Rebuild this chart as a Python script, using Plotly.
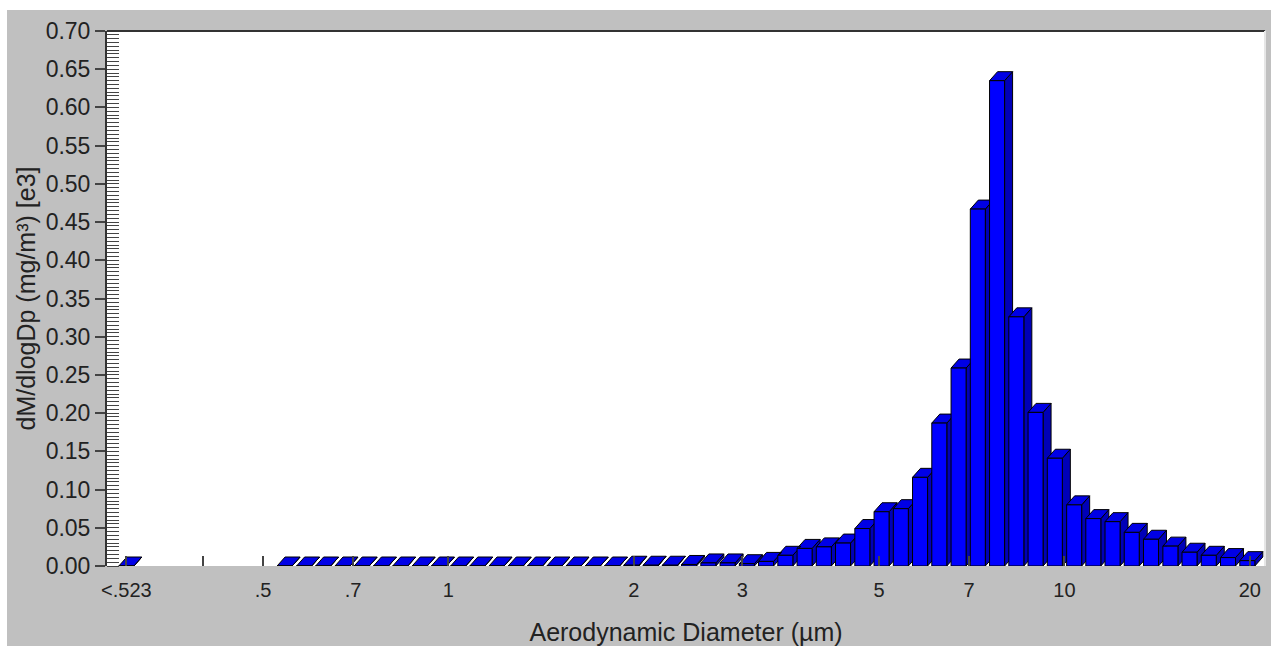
import math
import plotly.graph_objects as go

# ---------------- data ----------------
# APS channel midpoints (aerodynamic diameter, µm)
diameters = [0.542, 0.583, 0.626, 0.673, 0.723, 0.777, 0.835, 0.898, 0.965, 1.037,
             1.114, 1.197, 1.286, 1.382, 1.486, 1.596, 1.715, 1.843, 1.981, 2.129,
             2.288, 2.458, 2.642, 2.839, 3.051, 3.278, 3.523, 3.786, 4.068, 4.371,
             4.698, 5.048, 5.425, 5.829, 6.264, 6.732, 7.234, 7.774, 8.354, 8.977,
             9.647, 10.37, 11.14, 11.97, 12.86, 13.82, 14.86, 15.96, 17.15, 18.43,
             19.81]
# dM/dlogDp (mg/m³) [e3]
values = [0.0, 0.0, 0.0, 0.0, 0.0, 0.0, 0.0, 0.0, 0.0, 0.0,
          0.0, 0.0, 0.0, 0.0, 0.0, 0.0, 0.0, 0.0, 0.001, 0.001,
          0.001, 0.002, 0.004, 0.004, 0.003, 0.006, 0.014, 0.023, 0.025, 0.030,
          0.049, 0.071, 0.075, 0.116, 0.187, 0.259, 0.467, 0.635, 0.326, 0.201,
          0.141, 0.080, 0.062, 0.058, 0.044, 0.035, 0.026, 0.018, 0.014, 0.011,
          0.007]
under_label = "<.523"
under_value = 0.0

tick_diams = [0.4, 0.5, 0.7, 1, 2, 3, 5, 7, 10, 20]
tick_labels = ["", ".5", ".7", "1", "2", "3", "5", "7", "10", "20"]

# ---------------- layout geometry ----------------
W, H = 1271, 646
ML, MR, MT, MB = 107, 6, 31, 80
plot_w = W - ML - MR
plot_h = H - MT - MB
PX_PER_DECADE = 616.0
x_left = math.log10(0.5) - 156 / PX_PER_DECADE
x_right = x_left + plot_w / PX_PER_DECADE
y_max = 0.70

under_pos = math.log10(0.3)          # display slot for the under-range bin
chan_w = 1.0 / 32                     # channel width in log10 units
front_w = 0.78 * chan_w
dx = 8 / PX_PER_DECADE
dy = 9 * y_max / plot_h

centers = [under_pos] + [math.log10(d) for d in diameters]
heights = [under_value] + values

fx, fy, tx, ty, sx, sy = [], [], [], [], [], []
for c, v in zip(centers, heights):
    xl, xr = c - front_w / 2, c + front_w / 2
    fx += [xl, xr, xr, xl, xl, None]
    fy += [0, 0, v, v, 0, None]
    tx += [xl, xr, xr + dx, xl + dx, xl, None]
    ty += [v, v, v + dy, v + dy, v, None]
    sx += [xr, xr + dx, xr + dx, xr, xr, None]
    sy += [0, dy, v + dy, v, 0, None]

fig = go.Figure()
for xs, ys, col in [(sx, sy, "#0000b8"), (tx, ty, "#0000e6"), (fx, fy, "#0000ff")]:
    fig.add_trace(go.Scatter(x=xs, y=ys, mode="lines", fill="toself", fillcolor=col,
                             line=dict(color="black", width=1), hoverinfo="skip",
                             showlegend=False, cliponaxis=False))

font_family = "Arial, Liberation Sans, sans-serif"
fig.update_layout(
    width=W, height=H,
    margin=dict(l=ML, r=MR, t=MT, b=MB, pad=0),
    paper_bgcolor="#c0c0c0",
    plot_bgcolor="white",
    font=dict(family=font_family, color="#222222"),
    xaxis=dict(
        range=[x_left, x_right],
        tickmode="array",
        tickvals=[under_pos] + [math.log10(t) for t in tick_diams],
        ticktext=[under_label] + tick_labels,
        ticks="inside", ticklen=10, tickwidth=1.5, tickcolor="#444444",
        ticklabelstandoff=10,
        tickfont=dict(size=20, family=font_family, color="#222222"),
        showgrid=False, zeroline=False, showline=False,
        title=dict(text="Aerodynamic Diameter (µm)",
                   font=dict(size=25, family=font_family, color="#222222"),
                   standoff=23),
        automargin=False,
    ),
    yaxis=dict(
        range=[0, y_max],
        tickmode="linear", tick0=0, dtick=0.05, tickformat=".2f",
        ticks="outside", ticklen=10, tickwidth=1.5, tickcolor="#444444",
        tickfont=dict(size=23, family=font_family, color="#222222"),
        minor=dict(ticks="inside", dtick=0.005, ticklen=12, tickwidth=1,
                   tickcolor="#444444", showgrid=False),
        showgrid=False, zeroline=False,
        showline=True, linecolor="#333333", linewidth=2,
        title=dict(text="dM/dlogDp (mg/m³) [e3]",
                   font=dict(size=25, family=font_family, color="#222222"),
                   standoff=3),
        automargin=False,
    ),
    shapes=[
        # top border (dark) and right border (light)
        dict(type="line", xref="paper", yref="paper", x0=0, x1=1, y0=1, y1=1,
             line=dict(color="#333333", width=2)),
        dict(type="line", xref="paper", yref="paper", x0=1, x1=1, y0=0, y1=1,
             line=dict(color="#e6e6e6", width=2)),
        # white page strips at the top and left
        dict(type="rect", xref="paper", yref="paper",
             x0=-ML / plot_w, x1=(W - ML) / plot_w,
             y0=(plot_h + MT - 10) / plot_h, y1=(plot_h + MT) / plot_h,
             line=dict(width=0), fillcolor="white", layer="above"),
        dict(type="rect", xref="paper", yref="paper",
             x0=-ML / plot_w, x1=(7 - ML) / plot_w,
             y0=-MB / plot_h, y1=(plot_h + MT) / plot_h,
             line=dict(width=0), fillcolor="white", layer="above"),
    ],
)

fig.write_html(
    "out.html",
    config={"displayModeBar": False},
    post_script="document.body.style.margin='0';"
                "document.documentElement.style.overflow='hidden';",
)
